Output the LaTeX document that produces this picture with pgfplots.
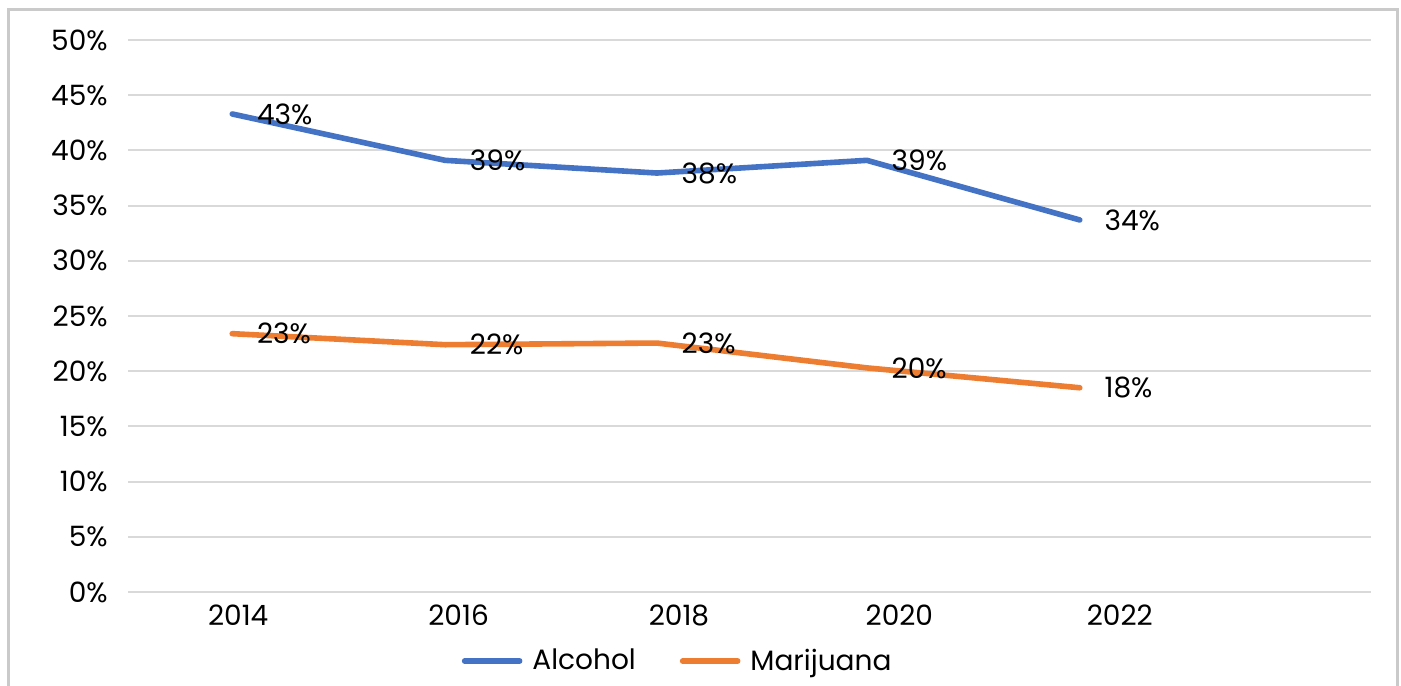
\documentclass[border=0pt]{standalone}
\usepackage{pgfplots}
\pgfplotsset{compat=1.18}
\usepackage{fontspec}
\setmainfont{Poppins}

\definecolor{alc}{HTML}{4472C4}
\definecolor{mar}{HTML}{ED7D31}
\definecolor{gridc}{HTML}{D9D9D9}
\definecolor{framec}{HTML}{CACACA}

\begin{document}
\begin{tikzpicture}[x=1pt,y=1pt]
\useasboundingbox (0,0) rectangle (700.5,342.5);
\fill[white] (0,0) rectangle (700.5,342.5);
\draw[framec, line width=1.5pt] (4,-20) -- (4,337.5) -- (698.5,337.5) -- (698.5,-20);
\begin{axis}[
  at={(64pt,46.5pt)}, anchor=south west,
  scale only axis, width=621.5pt, height=276pt,
  xmin=2013.0, xmax=2024.28, ymin=0, ymax=50,
  axis line style={draw=none},
  major tick length=0pt,
  ymajorgrids, grid style={gridc, line width=1pt},
  xtick={2014,2016,2018,2020,2022},
  xticklabels={2014,2016,2018,2020,2022},
  ytick={0,5,...,50},
  yticklabels={0\%,5\%,10\%,15\%,20\%,25\%,30\%,35\%,40\%,45\%,50\%},
  tick label style={font=\fontsize{14}{16}\selectfont, text=black},
  yticklabel style={inner sep=0pt, anchor=east, xshift=-10pt},
  xticklabel style={inner sep=0pt, anchor=north, yshift=-6pt},
  clip=false,
  point meta=explicit symbolic,
  nodes near coords,
  every node near coord/.append style={anchor=west, inner sep=0pt, xshift=11pt,
    font=\fontsize{14}{16}\selectfont, text=black},
  legend style={at={(0.443,-0.125)}, anchor=center, draw=none, fill=none,
    legend columns=2, font=\fontsize{14}{16}\selectfont,
    /tikz/every odd column/.append style={column sep=3pt},
    /tikz/every even column/.append style={column sep=20pt}},
  legend image code/.code={\draw[#1, line width=2.8pt, line cap=round] (0pt,0pt) -- (27.5pt,0pt);},
]
\addplot[alc, line width=2.8pt, line cap=round, line join=round] coordinates {
  (2013.946,43.3) [43\%]
  (2015.878,39.1) [39\%]
  (2017.80,37.95) [38\%]
  (2019.705,39.1) [39\%]
  (2021.637,33.7) [34\%]
};
\addlegendentry{Alcohol}
\addplot[mar, line width=2.8pt, line cap=round, line join=round] coordinates {
  (2013.946,23.4) [23\%]
  (2015.878,22.4) [22\%]
  (2017.80,22.55) [23\%]
  (2019.705,20.3) [20\%]
  (2021.637,18.5) [18\%]
};
\addlegendentry{Marijuana}
\end{axis}
\end{tikzpicture}
\end{document}
